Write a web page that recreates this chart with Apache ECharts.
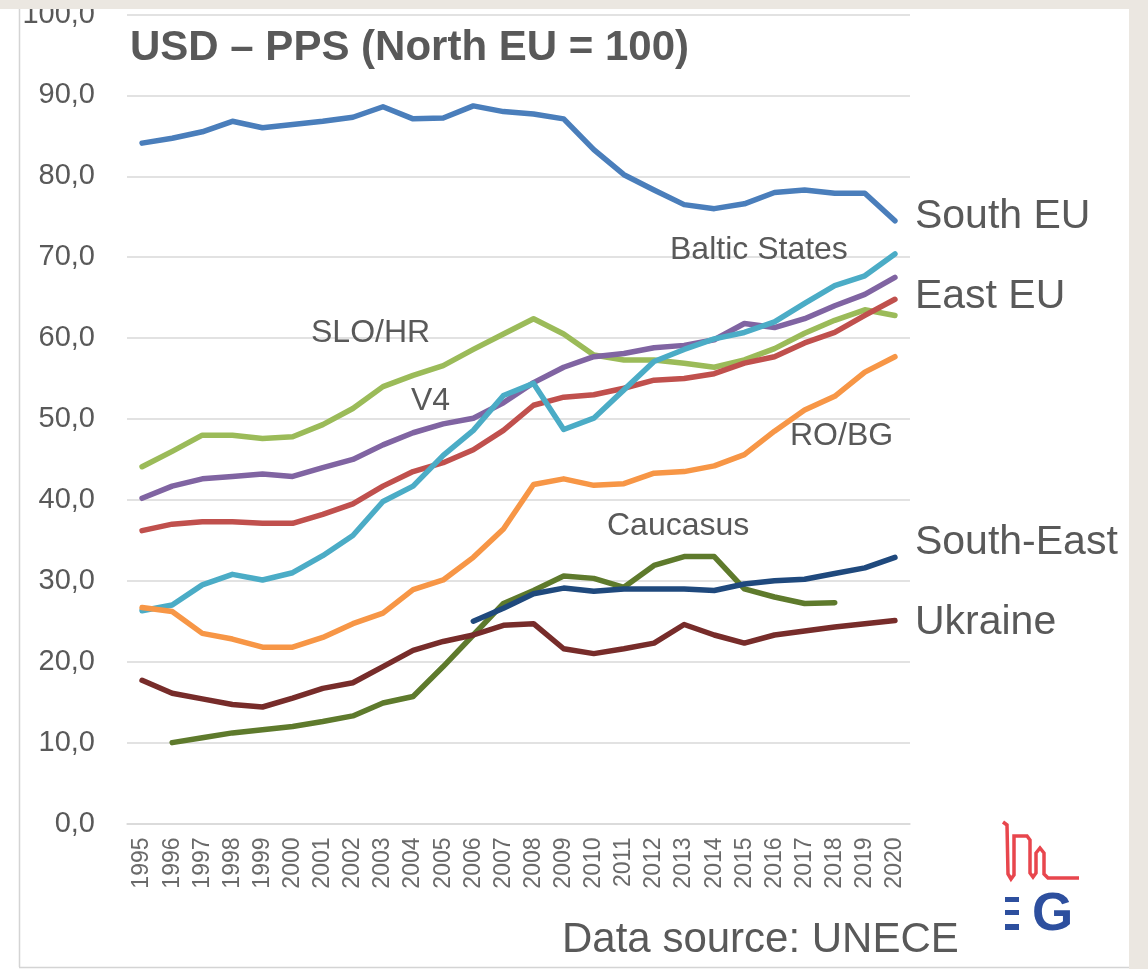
<!DOCTYPE html>
<html>
<head>
<meta charset="utf-8">
<title>USD - PPS (North EU = 100)</title>
<script src="https://cdn.jsdelivr.net/npm/echarts@6/dist/echarts.min.js"></script>
<style>
  html, body { margin: 0; padding: 0; background: #ffffff; }
  #chart { width: 1148px; height: 969px; }
</style>
</head>
<body>
<div id="chart"></div>
<script>
// years on the x axis
const years = ['1995', '1996', '1997', '1998', '1999', '2000', '2001', '2002', '2003', '2004',
  '2005', '2006', '2007', '2008', '2009', '2010', '2011', '2012', '2013', '2014',
  '2015', '2016', '2017', '2018', '2019', '2020']

// values (North EU = 100)
const southEU = [84.1, 84.7, 85.5, 86.8, 86.0, 86.4, 86.8, 87.3, 88.6, 87.1,
  87.2, 88.7, 88.0, 87.7, 87.1, 83.3, 80.2, 78.3, 76.5, 76.0,
  76.6, 78.0, 78.3, 77.9, 77.9, 74.5]
const balticStates = [26.3, 27.0, 29.5, 30.8, 30.1, 31.0, 33.1, 35.6, 39.8, 41.7,
  45.5, 48.6, 52.9, 54.4, 48.7, 50.1, 53.6, 57.1, 58.6, 59.9,
  60.7, 62.0, 64.3, 66.5, 67.7, 70.4]
const v4 = [40.2, 41.7, 42.6, 42.9, 43.2, 42.9, 44.0, 45.0, 46.8, 48.3,
  49.4, 50.1, 52.0, 54.5, 56.4, 57.7, 58.1, 58.8, 59.1, 59.8,
  61.8, 61.3, 62.4, 64.0, 65.4, 67.5]
const eastEU = [36.2, 37.0, 37.3, 37.3, 37.1, 37.1, 38.2, 39.5, 41.7, 43.5,
  44.6, 46.2, 48.6, 51.7, 52.7, 53.0, 53.8, 54.8, 55.0, 55.6,
  56.9, 57.7, 59.4, 60.7, 62.8, 64.8]
const sloHr = [44.1, 46.0, 48.0, 48.0, 47.6, 47.8, 49.3, 51.3, 54.0, 55.4,
  56.6, 58.6, 60.5, 62.4, 60.5, 57.9, 57.3, 57.3, 56.9, 56.4,
  57.3, 58.7, 60.6, 62.2, 63.5, 62.8]
const roBg = [26.7, 26.2, 23.5, 22.8, 21.8, 21.8, 23.0, 24.7, 26.0, 28.9,
  30.1, 32.9, 36.4, 41.9, 42.6, 41.8, 42.0, 43.3, 43.5, 44.2,
  45.6, 48.5, 51.1, 52.8, 55.8, 57.7]
const southEast = [null, null, null, null, null, null, null, null, null, null,
  null, 25.0, 26.6, 28.4, 29.1, 28.7, 29.0, 29.0, 29.0, 28.8,
  29.6, 30.0, 30.2, 30.9, 31.6, 32.9]
const ukraine = [17.7, 16.1, 15.4, 14.7, 14.4, 15.5, 16.7, 17.4, 19.4, 21.4,
  22.5, 23.3, 24.5, 24.7, 21.6, 21.0, 21.6, 22.3, 24.6, 23.3,
  22.3, 23.3, 23.8, 24.3, 24.7, 25.1]
const caucasus = [null, 10.0, 10.6, 11.2, 11.6, 12.0, 12.6, 13.3, 14.9, 15.7,
  19.4, 23.3, 27.2, 28.8, 30.6, 30.3, 29.2, 31.9, 33.0, 33.0,
  29.0, 28.0, 27.2, 27.3, null, null]

const textColor = '#595959'
const font = 'Liberation Sans, Arial, sans-serif'

function lineSeries (name, data, color, endLabel) {
  let s = {
    name: name,
    type: 'line',
    data: data,
    symbol: 'none',
    smooth: false,
    lineStyle: { color: color, width: 5.5, cap: 'round', join: 'round' },
    itemStyle: { color: color },
    z: 3
  }
  if (endLabel) {
    s.endLabel = {
      show: true,
      formatter: name,
      color: textColor,
      fontFamily: font,
      fontSize: 41,
      offset: endLabel
    }
  }
  return s
}

let dom = echarts.init(document.getElementById('chart'), null, { renderer: 'canvas' })
let option = {
  backgroundColor: '#ffffff',
  animation: false,
  grid: { left: 127, right: 238, top: 7, bottom: 145.5 },
  xAxis: {
    type: 'category',
    data: years,
    boundaryGap: true,
    axisLine: { show: true, lineStyle: { color: '#d9d9d9', width: 1.5 } },
    axisTick: { show: false },
    axisLabel: {
      rotate: 90,
      color: '#6a6a6a',
      fontFamily: font,
      fontSize: 23,
      margin: 14,
      interval: 0
    },
    splitLine: { show: false }
  },
  yAxis: {
    type: 'value',
    min: 0,
    max: 100,
    interval: 10,
    axisLine: { show: false },
    axisTick: { show: false },
    axisLabel: {
      color: textColor,
      fontFamily: font,
      fontSize: 29,
      margin: 32,
      formatter: function (v) { return v.toFixed(1).replace('.', ',') }
    },
    splitLine: { lineStyle: { color: '#d9d9d9', width: 1.5 } }
  },
  series: [
    lineSeries('South EU', southEU, '#4a7ebb', [12, -4]),
    lineSeries('SLO/HR', sloHr, '#9bbb59'),
    lineSeries('V4', v4, '#8064a2'),
    lineSeries('East EU', eastEU, '#c0504d', [12, -3]),
    lineSeries('Baltic States', balticStates, '#4bacc6'),
    lineSeries('RO/BG', roBg, '#f79646'),
    lineSeries('Caucasus', caucasus, '#5e7a2c'),
    lineSeries('South-East', southEast, '#1f497d', [12, -15]),
    lineSeries('Ukraine', ukraine, '#772c2a', [12, 2])
  ],
  graphic: [
    // page frame
    { type: 'rect', shape: { x: 0, y: 0, width: 1148, height: 9 }, style: { fill: '#ebe7e1' }, z: 100 },
    { type: 'rect', shape: { x: 1129, y: 0, width: 19, height: 969 }, style: { fill: '#ebe7e1' }, z: 100 },
    { type: 'line', shape: { x1: 19.5, y1: 9, x2: 19.5, y2: 967 }, style: { stroke: '#d4d4d4', lineWidth: 1.5 }, z: 100 },
    { type: 'line', shape: { x1: 19, y1: 967.5, x2: 1129, y2: 967.5 }, style: { stroke: '#d4d4d4', lineWidth: 1.5 }, z: 100 },
    // title
    {
      type: 'text', x: 130, y: 48, z: 50,
      style: { text: 'USD – PPS (North EU = 100)', fill: textColor, font: 'bold 42px ' + font, verticalAlign: 'middle' }
    },
    // series labels inside the plot
    { type: 'text', x: 670, y: 250, z: 50, style: { text: 'Baltic States', fill: textColor, font: '32px ' + font, verticalAlign: 'middle' } },
    { type: 'text', x: 311, y: 333, z: 50, style: { text: 'SLO/HR', fill: textColor, font: '32px ' + font, verticalAlign: 'middle' } },
    { type: 'text', x: 411, y: 401, z: 50, style: { text: 'V4', fill: textColor, font: '32px ' + font, verticalAlign: 'middle' } },
    { type: 'text', x: 790, y: 436, z: 50, style: { text: 'RO/BG', fill: textColor, font: '32px ' + font, verticalAlign: 'middle' } },
    { type: 'text', x: 607, y: 526, z: 50, style: { text: 'Caucasus', fill: textColor, font: '32px ' + font, verticalAlign: 'middle' } },
    // source
    { type: 'text', x: 562, y: 940, z: 50, style: { text: 'Data source: UNECE', fill: textColor, font: '42px ' + font, verticalAlign: 'middle' } },
    // logo
    {
      type: 'polyline', z: 50,
      shape: {
        points: [[1003, 822], [1007, 825], [1008, 874], [1011, 879], [1014, 875], [1014, 836],
          [1027, 836], [1030, 840], [1030, 873], [1033, 877], [1036, 873], [1036, 853],
          [1040, 848], [1044, 853], [1044, 874], [1048, 878], [1079, 878]]
      },
      style: { stroke: '#e8464d', lineWidth: 3.5, fill: null }
    },
    { type: 'rect', z: 50, shape: { x: 1005, y: 897, width: 14, height: 5 }, style: { fill: '#2d4f9e' } },
    { type: 'rect', z: 50, shape: { x: 1005, y: 910, width: 14, height: 5 }, style: { fill: '#2d4f9e' } },
    { type: 'rect', z: 50, shape: { x: 1005, y: 924, width: 14, height: 6 }, style: { fill: '#2d4f9e' } },
    { type: 'text', x: 1032, y: 915, z: 50, style: { text: 'G', fill: '#2d4f9e', font: 'bold 53px ' + font, verticalAlign: 'middle' } }
  ]
}
dom.setOption(option)
</script>
</body>
</html>
